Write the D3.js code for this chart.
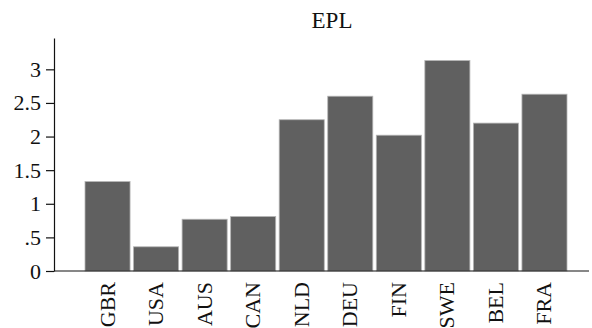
<!DOCTYPE html>
<html>
<head>
<meta charset="utf-8">
<script src="https://cdn.jsdelivr.net/npm/d3@7"></script>
<style>
  html, body { margin: 0; padding: 0; background: #fff; }
  svg { display: block; }
  text { font-family: "Liberation Serif", "Times New Roman", serif; fill: #111; }
</style>
</head>
<body>
<svg id="chart" width="592" height="328"></svg>
<script>
// EPL index by country
const countries = ["GBR", "USA", "AUS", "CAN", "NLD", "DEU", "FIN", "SWE", "BEL", "FRA"];
const eplValues = [1.33, 0.36, 0.77, 0.81, 2.25, 2.60, 2.02, 3.13, 2.20, 2.63];
const yTickValues = [0, 0.5, 1, 1.5, 2, 2.5, 3];
const yTickLabels = ["0", ".5", "1", "1.5", "2", "2.5", "3"];
const chartTitle = "EPL";

const svg = d3.select("#chart");
const axisX = 54, baseY = 271, topY = 38;
const fontSize = 22;
const serif = "Liberation Serif, Times New Roman, serif";

const x = d3.scaleBand()
  .domain(countries)
  .range([85, 567])
  .paddingInner(0.072)
  .paddingOuter(0);

const y = d3.scaleLinear()
  .domain([0, 3.466])
  .range([baseY, topY]);

// bars
svg.append("g")
  .selectAll("rect")
  .data(countries)
  .join("rect")
  .attr("x", d => x(d))
  .attr("width", x.bandwidth())
  .attr("y", (d, i) => y(eplValues[i]))
  .attr("height", (d, i) => baseY - y(eplValues[i]))
  .attr("fill", "#606060")
  .attr("stroke", "#b4b4b4")
  .attr("stroke-width", 0.8);

// y axis
const yAxis = d3.axisLeft(y)
  .tickValues(yTickValues)
  .tickFormat((d, i) => yTickLabels[i])
  .tickSizeInner(8)
  .tickSizeOuter(0)
  .tickPadding(5);

const gy = svg.append("g")
  .attr("transform", `translate(${axisX},0)`)
  .attr("font-family", serif)
  .attr("font-size", fontSize)
  .call(yAxis);
gy.attr("font-family", serif).attr("font-size", fontSize);
gy.select(".domain").attr("stroke", "#111").attr("stroke-width", 1.2);
gy.selectAll(".tick line").attr("stroke", "#111").attr("stroke-width", 1.2);
gy.selectAll(".tick text")
  .style("font-size", fontSize + "px")
  .attr("fill", "#111");

// x axis baseline and rotated category labels
const gx = svg.append("g")
  .attr("transform", `translate(0,${baseY})`)
  .call(d3.axisBottom(x).tickSize(0).tickPadding(0));
gx.attr("font-family", serif).attr("font-size", fontSize);
gx.select(".domain").remove();
gx.append("line")
  .attr("x1", axisX).attr("x2", 589)
  .attr("y1", 0).attr("y2", 0)
  .attr("stroke", "#111").attr("stroke-width", 1.2);
gx.selectAll(".tick text")
  .style("font-size", fontSize + "px")
  .attr("fill", "#111")
  .attr("text-anchor", "end")
  .attr("dy", null)
  .attr("y", 0)
  .attr("transform", "translate(7,11) rotate(-90)");

// title
svg.append("text")
  .attr("x", 332)
  .attr("y", 28)
  .attr("text-anchor", "middle")
  .style("font-size", "23px")
  .text(chartTitle);
</script>
</body>
</html>
